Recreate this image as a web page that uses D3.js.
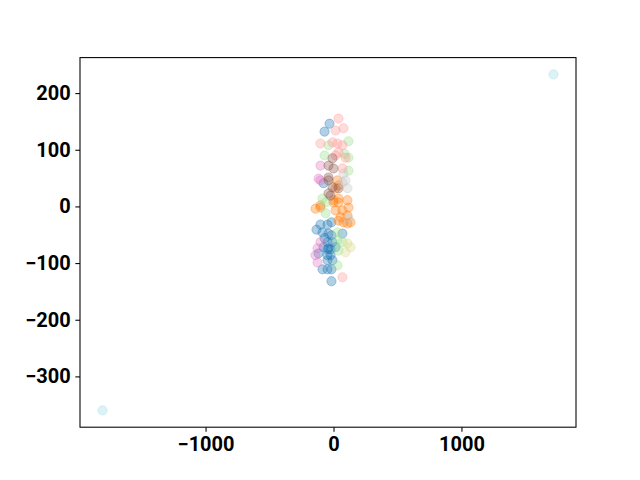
<!DOCTYPE html>
<html>
<head>
<meta charset="utf-8">
<script src="https://cdn.jsdelivr.net/npm/d3@7"></script>
<style>
  body { margin: 0; background: #fff; }
  .tick text { font-family: Roboto, sans-serif; font-weight: bold; font-size: 20px; fill: #000; }
</style>
</head>
<body>
<div id="chart"></div>
<script>
// series values, [x, y]
const blue = [[-31,146],[-70,132],[-78,41],[-102,-32],[-47,-32],[-16,-28],[-133,-41],[-86,-46],
  [-39,-48],[70,-48],[-16,-51],[-70,-56],[-8,-63],[-47,-63],[-78,-72],[-39,-74],[16,-72],
  [-117,-83],[-47,-76],[-23,-76],[-47,-86],[-23,-86],[-8,-95],[-47,-95],[-86,-111],
  [-47,-111],[-16,-111],[-16,-132]];
const orange = [[31,46],[39,37],[16,32],[109,11],[0,11],[39,14],[-102,2],[-141,-4],[-102,-2],
  [0,7],[39,7],[117,-2],[16,-7],[70,-7],[55,-19],[109,-16],[39,-25],[109,-30],[133,-28],[78,-28]];
const green = [[117,115],[-39,108],[-70,90],[86,93],[117,86],[117,63],[-86,14],[-62,7],
  [-62,-12],[31,-46],[31,-60],[70,-63],[39,-78],[31,-104]];
const lightRed = [[39,155],[16,134],[78,138],[-102,111],[-8,113],[31,111],[70,108],[39,95],
  [16,90],[94,86],[70,67],[70,-125]];
const pink = [[-102,72],[-117,49],[-102,46],[-102,-63],[-125,-74],[-141,-86],[-125,-99]];
const brown = [[-8,85],[-39,72],[0,67],[-39,51],[-39,46],[-8,34],[39,32],[-39,23],[-23,19]];
const gray = [[78,58],[94,46],[70,42],[109,32],[117,-21]];
const olive = [[109,-65],[133,-72],[94,-81]];
const cyan = [[-1805,-360],[1719,233]];

const seriesList = [blue, orange, green, lightRed, pink, brown, gray, olive, cyan];
const seriesColors = ["#1f77b4", "#ff7f0e", "#98df8a", "#ff9896", "#e377c2",
  "#8c564b", "#c7c7c7", "#dbdb8d", "#9edae5"];

const xTicks = [-1000, 0, 1000];
const yTicks = [-300, -200, -100, 0, 100, 200];

const W = 640, H = 480;
const margin = { top: 57.6, right: 64, bottom: 52.8, left: 80 };
const width = W - margin.left - margin.right,
      height = H - margin.top - margin.bottom;

const svg = d3.select("#chart").append("svg")
    .attr("width", W)
    .attr("height", H)
  .append("g")
    .attr("transform", `translate(${margin.left},${margin.top})`);

// matplotlib style 5% padding around the data
const all = seriesList.flat();
const pad = (ext) => { const d = (ext[1] - ext[0]) * 0.05; return [ext[0] - d, ext[1] + d]; };
const x = d3.scaleLinear().domain(pad(d3.extent(all, d => d[0]))).range([0, width]);
const y = d3.scaleLinear().domain(pad(d3.extent(all, d => d[1]))).range([height, 0]);

seriesList.forEach((pts, i) => {
  svg.append("g")
    .selectAll("circle")
    .data(pts)
    .join("circle")
      .attr("cx", d => x(d[0]))
      .attr("cy", d => y(d[1]))
      .attr("r", 4.6)
      .attr("fill", seriesColors[i])
      .attr("fill-opacity", 0.35)
      .attr("stroke", seriesColors[i])
      .attr("stroke-opacity", 0.35)
      .attr("stroke-width", 1);
});

const fmt = d => d < 0 ? "\u2212" + Math.abs(d) : String(d);

const xAxis = svg.append("g")
    .attr("transform", `translate(0,${height})`)
    .call(d3.axisBottom(x).tickValues(xTicks).tickFormat(fmt).tickSize(4.67).tickPadding(4.67));
const yAxis = svg.append("g")
    .call(d3.axisLeft(y).tickValues(yTicks).tickFormat(fmt).tickSize(4.67).tickPadding(4.67));
[xAxis, yAxis].forEach(a => {
  a.select(".domain").remove();
  a.selectAll(".tick line").attr("stroke", "#000").attr("stroke-width", 1.07);
});

// frame
svg.append("rect")
    .attr("width", width)
    .attr("height", height)
    .attr("fill", "none")
    .attr("stroke", "#000")
    .attr("stroke-width", 1.07);
</script>
</body>
</html>
